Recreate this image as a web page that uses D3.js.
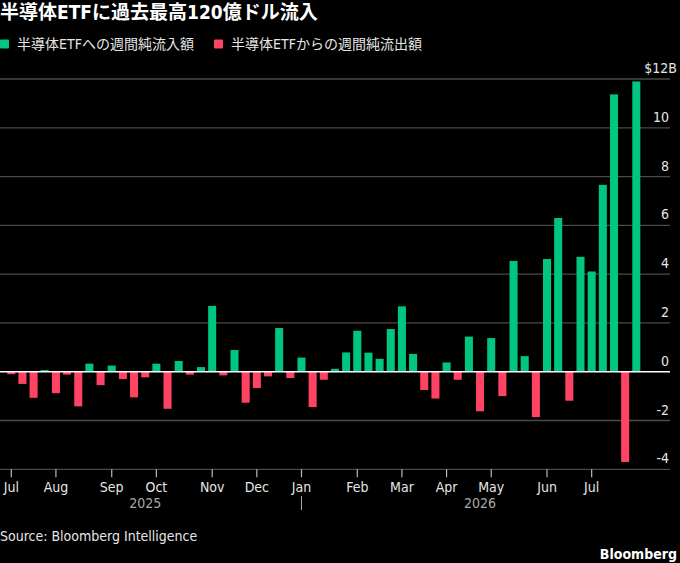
<!DOCTYPE html>
<html>
<head>
<meta charset="utf-8">
<script src="https://cdn.jsdelivr.net/npm/d3@7"></script>
<style>
  html, body { margin: 0; padding: 0; background: #000; }
  svg { display: block; }
  text { font-family: "DejaVu Sans Condensed", "Liberation Sans Narrow", "Noto Sans CJK JP", sans-serif; }
</style>
</head>
<body>
<svg id="chart" width="680" height="563"></svg>
<script>
// ---- data ----
const title = "半導体ETFに過去最高120億ドル流入";
const legendLabels = ["半導体ETFへの週間純流入額", "半導体ETFからの週間純流出額"];
const weeks = [
  "2025-07-04","2025-07-11","2025-07-18","2025-07-25",
  "2025-08-01","2025-08-08","2025-08-15","2025-08-22","2025-08-29",
  "2025-09-05","2025-09-12","2025-09-19","2025-09-26",
  "2025-10-03","2025-10-10","2025-10-17","2025-10-24","2025-10-31",
  "2025-11-07","2025-11-14","2025-11-21","2025-11-28",
  "2025-12-05","2025-12-12","2025-12-19","2025-12-26",
  "2026-01-02","2026-01-09","2026-01-16","2026-01-23","2026-01-30",
  "2026-02-06","2026-02-13","2026-02-20","2026-02-27",
  "2026-03-06","2026-03-13","2026-03-20","2026-03-27",
  "2026-04-03","2026-04-10","2026-04-17","2026-04-24",
  "2026-05-01","2026-05-08","2026-05-15","2026-05-22","2026-05-29",
  "2026-06-05","2026-06-12","2026-06-19","2026-06-26",
  "2026-07-03","2026-07-10","2026-07-17","2026-07-24","2026-07-31"
];
const flows = [
  -0.10, -0.50, -1.07, 0.07,
  -0.88, -0.12, -1.42, 0.33, -0.55,
  0.25, -0.30, -1.05, -0.23,
  0.33, -1.52, 0.44, -0.12, 0.19,
  2.70, -0.15, 0.89, -1.27,
  -0.67, -0.19, 1.79, -0.26,
  0.58, -1.45, -0.33, 0.12, 0.79,
  1.68, 0.78, 0.53, 1.75,
  2.68, 0.73, -0.75, -1.10,
  0.38, -0.33, 1.44, -1.62,
  1.38, -1.00, 4.54, 0.64, -1.86,
  4.62, 6.30, -1.19, 4.71,
  4.11, 7.66, 11.37, -3.70, 11.90
];
const yTicks = [-4, -2, 0, 2, 4, 6, 8, 10, 12];
const monthNames = ["Jan","Feb","Mar","Apr","May","Jun","Jul","Aug","Sep","Oct","Nov","Dec"];
const yearLabels = [{year: "2025", at: "2025-09-26"}, {year: "2026", at: "2026-04-24"}];
const yearDivider = "2026-01-02";
const source = "Source: Bloomberg Intelligence";

// ---- styles ----
const GREEN = "#00c680";
const RED = "#ff4363";
const GRID = "#4a4a4a";
const TEXT = "#e6e6e6";
const FS = 14;

const svg = d3.select("#chart");
svg.append("rect").attr("width", 680).attr("height", 563).attr("fill", "#000");

const data = weeks.map((w, i) => ({ week: w, value: flows[i] }));

const x = d3.scaleBand()
  .domain(weeks)
  .range([5.7, 641.9])
  .paddingInner(0.28)
  .paddingOuter(0.14);

const y = d3.scaleLinear().domain([-4, 12]).range([469.3, 79]);

// gridlines
svg.append("g").selectAll("line")
  .data(yTicks.filter(d => d !== 0))
  .join("line")
  .attr("x1", 0).attr("x2", 670)
  .attr("y1", d => y(d)).attr("y2", d => y(d))
  .attr("stroke", GRID).attr("stroke-width", 1.3);

// y labels
svg.append("g").selectAll("text")
  .data(yTicks)
  .join("text")
  .attr("x", d => d === 12 ? 677 : 669)
  .attr("y", d => y(d) - 6)
  .attr("text-anchor", "end")
  .attr("fill", TEXT)
  .attr("font-size", FS)
  .text(d => d === 12 ? "$12B" : String(d));

// bars
svg.append("g").selectAll("rect")
  .data(data)
  .join("rect")
  .attr("x", d => x(d.week))
  .attr("width", x.bandwidth())
  .attr("y", d => y(Math.max(0, d.value)))
  .attr("height", d => Math.abs(y(d.value) - y(0)))
  .attr("fill", d => d.value >= 0 ? GREEN : RED);

// zero line
svg.append("line")
  .attr("x1", 0).attr("x2", 670)
  .attr("y1", y(0)).attr("y2", y(0))
  .attr("stroke", "#ffffff").attr("stroke-width", 1.3);

// x axis
const monthTicks = weeks.filter((w, i) => i === 0 || w.slice(5, 7) !== weeks[i - 1].slice(5, 7));
const xAxis = d3.axisBottom(x)
  .tickValues(monthTicks)
  .tickSize(8)
  .tickPadding(5)
  .tickFormat(d => monthNames[+d.slice(5, 7) - 1]);

const gx = svg.append("g")
  .attr("transform", `translate(0,${y(-4)})`)
  .call(xAxis);
gx.select(".domain").remove();
gx.selectAll(".tick line").attr("stroke", "#bbbbbb").attr("stroke-width", 1.2);
gx.selectAll(".tick text")
  .attr("fill", TEXT)
  .attr("font-size", FS)
  .attr("font-family", "\"DejaVu Sans Condensed\", \"Liberation Sans Narrow\", sans-serif");

// year labels
svg.append("g").selectAll("text")
  .data(yearLabels)
  .join("text")
  .attr("x", d => x(d.at) + x.bandwidth() / 2)
  .attr("y", 508)
  .attr("text-anchor", "middle")
  .attr("fill", "#a8a8a8")
  .attr("font-size", FS)
  .text(d => d.year);

svg.append("line")
  .attr("x1", x(yearDivider) + x.bandwidth() / 2)
  .attr("x2", x(yearDivider) + x.bandwidth() / 2)
  .attr("y1", 496).attr("y2", 510)
  .attr("stroke", "#a8a8a8").attr("stroke-width", 1);

// title
svg.append("text")
  .attr("x", 0).attr("y", 19)
  .attr("fill", "#ffffff")
  .attr("font-size", 19)
  .attr("font-weight", "bold")
  .text(title);

// legend
const legendX = [0, 214];
const colors = [GREEN, RED];
const lg = svg.append("g").selectAll("g")
  .data(legendLabels)
  .join("g")
  .attr("transform", (d, i) => `translate(${legendX[i]},0)`);
lg.append("rect")
  .attr("x", 0).attr("y", 39.5)
  .attr("width", 9).attr("height", 9)
  .attr("rx", 1)
  .attr("fill", (d, i) => colors[i]);
lg.append("text")
  .attr("x", 17).attr("y", 49)
  .attr("fill", TEXT)
  .attr("font-size", FS)
  .text(d => d);

// source
svg.append("text")
  .attr("x", 0).attr("y", 541)
  .attr("fill", TEXT)
  .attr("font-size", FS)
  .text(source);

svg.append("text")
  .attr("x", 677).attr("y", 559)
  .attr("text-anchor", "end")
  .attr("fill", "#ffffff")
  .attr("font-size", FS)
  .attr("font-weight", "bold")
  .text("Bloomberg");
</script>
</body>
</html>
